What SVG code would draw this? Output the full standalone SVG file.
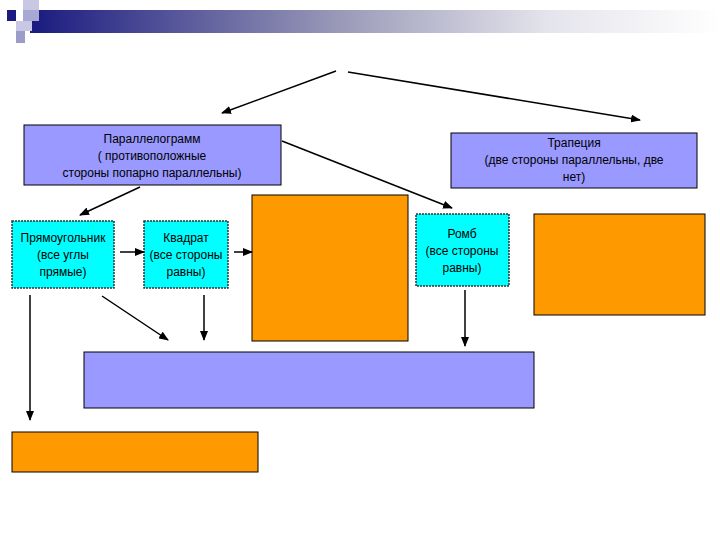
<svg xmlns="http://www.w3.org/2000/svg" width="720" height="540" viewBox="0 0 720 540">
<defs>
<linearGradient id="g" x1="0" x2="1" y1="0" y2="0"><stop offset="0" stop-color="#1a1a80"/><stop offset="0.45" stop-color="#9a9ab8"/><stop offset="0.75" stop-color="#e4e4ec"/><stop offset="1" stop-color="#ffffff"/></linearGradient>
<marker id="a" markerWidth="10" markerHeight="8" refX="9" refY="4" orient="auto" markerUnits="userSpaceOnUse"><path d="M0,0 L10,4 L0,8 z" fill="#000"/></marker>
<style>
.b{fill:#9999ff;stroke:#000;stroke-width:1}
.c{fill:#00ffff;stroke:#333;stroke-width:1.5;stroke-dasharray:2,1}
.o{fill:#ff9900;stroke:#000;stroke-width:1}
text{font-family:"Liberation Sans",Arial,sans-serif;font-size:12px;text-anchor:middle;fill:#000}
.l line{stroke:#000;stroke-width:1.5;marker-end:url(#a)}
</style>
</defs>
<rect x="30" y="10" width="690" height="23" fill="url(#g)"/>
<rect x="23" y="0" width="16" height="10" fill="#c8c8e4"/>
<rect x="7" y="10" width="9" height="11" fill="#1a1a80"/>
<rect x="23" y="10" width="16" height="11" fill="#a8a8d4"/>
<rect x="16" y="21" width="16" height="10" fill="#c8c8e4"/>
<rect x="16" y="31" width="9" height="12" fill="#9c9cc8"/>
<g id="par"><rect class="b" x="24" y="125" width="257" height="60"/><text x="152" y="143">Параллелограмм</text><text x="152" y="160">( противоположные</text><text x="152" y="177">стороны попарно параллельны)</text></g>
<g id="trap"><rect class="b" x="451" y="133" width="246" height="55"/><text x="574" y="147">Трапеция</text><text x="574" y="164">(две стороны параллельны, две</text><text x="574" y="181">нет)</text></g>
<g id="rect"><rect class="c" x="12" y="221" width="102" height="67"/><text x="63" y="242">Прямоугольник</text><text x="63" y="259">(все углы</text><text x="63" y="276">прямые)</text></g>
<g id="sq"><rect class="c" x="144" y="221" width="84" height="67"/><text x="186" y="242">Квадрат</text><text x="186" y="259">(все стороны</text><text x="186" y="276">равны)</text></g>
<g id="or1"><rect class="o" x="252" y="195" width="156" height="146"/></g>
<g id="romb"><rect class="c" x="416" y="214" width="93" height="72"/><text x="462" y="238">Ромб</text><text x="462" y="255">(все стороны</text><text x="462" y="272">равны)</text></g>
<g id="or2"><rect class="o" x="534" y="214" width="171" height="101"/></g>
<g id="blue"><rect class="b" x="84" y="352" width="450" height="56"/></g>
<g id="or3"><rect class="o" x="12" y="432" width="246" height="40"/></g>
<g id="conn" class="l">
<line x1="336" y1="71" x2="222" y2="113"/>
<line x1="348" y1="72" x2="640" y2="120"/>
<line x1="140" y1="187" x2="80" y2="215"/>
<line x1="282" y1="141" x2="452" y2="208"/>
<line x1="120" y1="252" x2="144" y2="252"/>
<line x1="234" y1="252" x2="252" y2="252"/>
<line x1="30" y1="295" x2="30" y2="420"/>
<line x1="102" y1="296" x2="168" y2="340"/>
<line x1="204" y1="295" x2="204" y2="340"/>
<line x1="465" y1="290" x2="465" y2="346"/>
</g>
</svg>
